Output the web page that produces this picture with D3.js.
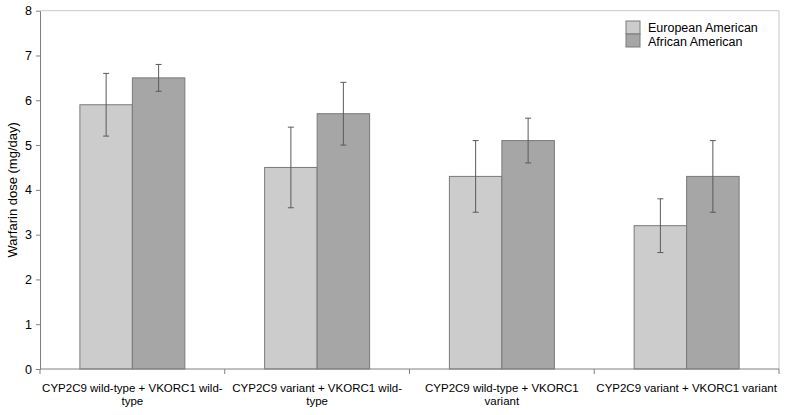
<!DOCTYPE html>
<html><head><meta charset="utf-8">
<script src="https://cdn.jsdelivr.net/npm/d3@7"></script>
<style>body{margin:0;background:#fff}svg{display:block}text{font-family:"Liberation Sans",Arial,sans-serif;fill:#000}</style>
</head><body><svg id="c" width="787" height="415"></svg>
<script>
const categories = ["CYP2C9 wild-type + VKORC1 wild-type","CYP2C9 variant + VKORC1 wild-type","CYP2C9 wild-type + VKORC1 variant","CYP2C9 variant + VKORC1 variant"];
const categoryLines = [["CYP2C9 wild-type + VKORC1 wild-","type"],["CYP2C9 variant + VKORC1 wild-","type"],["CYP2C9 wild-type + VKORC1","variant"],["CYP2C9 variant + VKORC1 variant"]];
const seriesNames = ["European American","African American"];
const europeanMean = [5.9, 4.5, 4.3, 3.2];
const europeanLow  = [5.2, 3.6, 3.5, 2.6];
const europeanHigh = [6.6, 5.4, 5.1, 3.8];
const africanMean  = [6.5, 5.7, 5.1, 4.3];
const africanLow   = [6.2, 5.0, 4.6, 3.5];
const africanHigh  = [6.8, 6.4, 5.6, 5.1];
const yTicks = [0,1,2,3,4,5,6,7,8];

const series = [
  {name: seriesNames[0], mean: europeanMean, low: europeanLow, high: europeanHigh, fill:"#cccccc"},
  {name: seriesNames[1], mean: africanMean, low: africanLow, high: africanHigh, fill:"#a6a6a6"}
];

const svg = d3.select("#c");
const L=40, R=779, T=10.7, B=369;
const x = d3.scaleBand().domain(categories).range([L,R]).paddingInner(0).paddingOuter(0);
const xi = d3.scaleBand().domain(seriesNames).range([0,x.bandwidth()]).paddingInner(0).paddingOuter(0.76);
const y = d3.scaleLinear().domain([0,8]).range([B,T]);

// plot border (top/right)
svg.append("path").attr("d",`M${L},${T}H${R}V${B}`).attr("fill","none").attr("stroke","#c8c8c8").attr("stroke-width",1);

// bars
series.forEach(s=>{
  const g = svg.append("g");
  g.selectAll("rect").data(categories).join("rect")
    .attr("x",(c)=>x(c)+xi(s.name))
    .attr("y",(c,i)=>y(s.mean[i]))
    .attr("width",xi.bandwidth())
    .attr("height",(c,i)=>y(0)-y(s.mean[i]))
    .attr("fill",s.fill).attr("stroke","#7a7a7a").attr("stroke-width",1);
});
// error bars
series.forEach(s=>{
  const g = svg.append("g").attr("stroke","#5a5a5a").attr("stroke-width",1).attr("fill","none");
  categories.forEach((c,i)=>{
    const cx = x(c)+xi(s.name)+xi.bandwidth()/2;
    g.append("line").attr("x1",cx).attr("x2",cx).attr("y1",y(s.high[i])).attr("y2",y(s.low[i]));
    g.append("line").attr("x1",cx-3).attr("x2",cx+3).attr("y1",y(s.high[i])).attr("y2",y(s.high[i]));
    g.append("line").attr("x1",cx-3).attr("x2",cx+3).attr("y1",y(s.low[i])).attr("y2",y(s.low[i]));
  });
});

// y axis
const ya = svg.append("g").attr("transform",`translate(${L},0)`)
  .call(d3.axisLeft(y).tickValues(yTicks).tickSize(4).tickPadding(4).tickSizeOuter(0));
ya.select(".domain").attr("stroke","#808080");
ya.selectAll(".tick line").attr("stroke","#808080");
ya.selectAll(".tick text").attr("font-size","12.5px").attr("font-family","Liberation Sans, Arial, sans-serif").attr("fill","#000");

// x axis
const xa = svg.append("g").attr("transform",`translate(0,${B})`)
  .call(d3.axisBottom(x).tickSize(0).tickFormat(""));
xa.select(".domain").attr("stroke","#808080").attr("d",`M${L},0H${R}`);
const tickPos = categories.map(c=>x(c)).concat([R]);
xa.selectAll(".sep").data(tickPos).join("line").attr("class","sep")
  .attr("x1",d=>d).attr("x2",d=>d).attr("y1",0).attr("y2",5).attr("stroke","#808080");
categories.forEach((c,i)=>{
  const t = svg.append("text").attr("text-anchor","middle").attr("font-size","11.5px")
    .attr("x",x(c)+x.bandwidth()/2).attr("y",391.5);
  categoryLines[i].forEach((ln,j)=>{
    t.append("tspan").attr("x",x(c)+x.bandwidth()/2).attr("dy",j===0?0:13.5).text(ln);
  });
});

// y label
svg.append("text").attr("transform",`translate(17,${(T+B)/2}) rotate(-90)`)
  .attr("text-anchor","middle").attr("font-size","13px").text("Warfarin dose (mg/day)");

// legend
const lg = svg.append("g").attr("transform","translate(626,21)");
series.forEach((s,i)=>{
  lg.append("rect").attr("x",0).attr("y",i*13).attr("width",14).attr("height",13)
    .attr("fill",s.fill).attr("stroke","#7a7a7a");
  lg.append("text").attr("x",22).attr("y",i*14+10.5).attr("font-size","12.5px").text(s.name);
});
</script></body></html>
